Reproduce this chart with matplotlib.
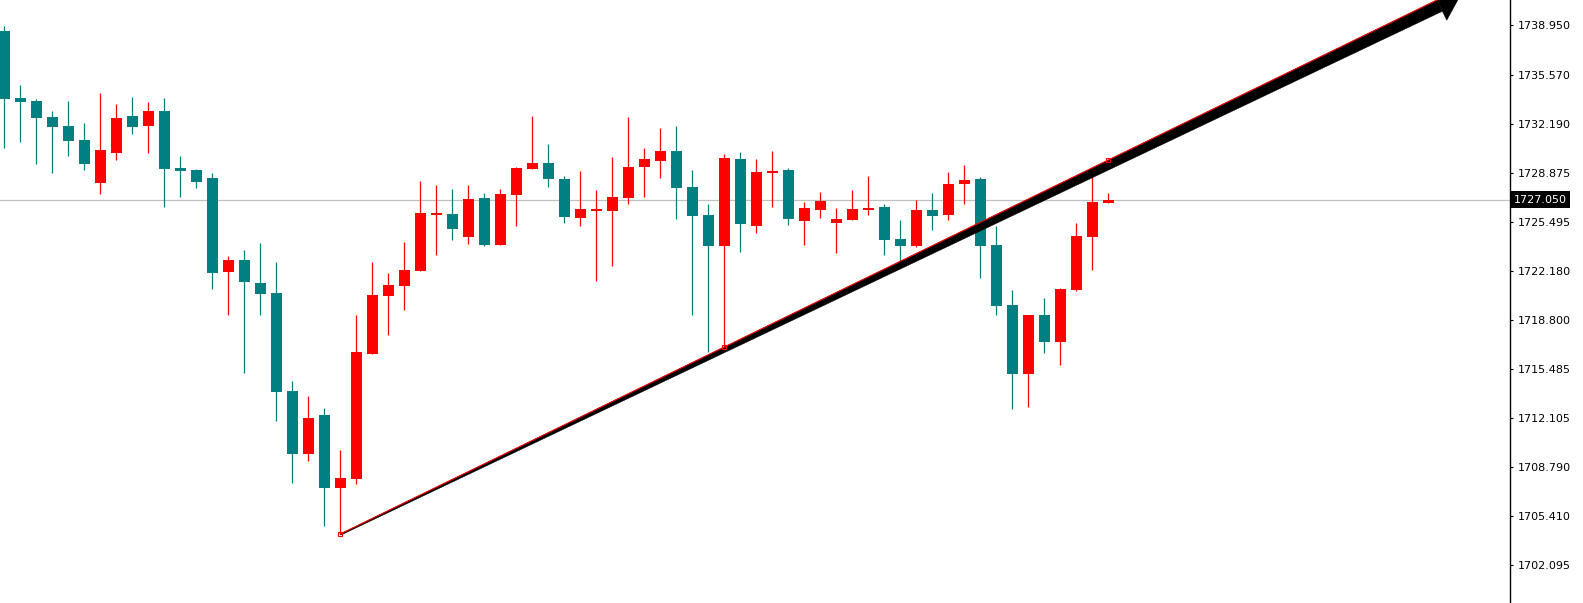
"""Gold M-chart snapshot: candles, bid line and a hand-drawn trend arrow (MT4 look)."""
import matplotlib

matplotlib.use("Agg")

import numpy as np
import matplotlib.pyplot as plt
from matplotlib.patches import Polygon
from matplotlib.transforms import IdentityTransform, blended_transform_factory

# --- data ---------------------------------------------------------------------
opens = [1738.57, 1733.99, 1733.78, 1732.69, 1732.07, 1731.12, 1728.18, 1730.23, 1732.76, 1732.07,
         1733.10, 1729.20, 1729.07, 1728.52, 1722.10, 1722.92, 1721.34, 1720.66, 1713.96, 1709.66,
         1712.32, 1707.33, 1707.95, 1716.49, 1720.45, 1721.14, 1722.16, 1725.99, 1726.06, 1724.49,
         1727.15, 1723.94, 1727.36, 1729.14, 1729.55, 1728.45, 1725.79, 1726.26, 1726.26, 1727.15,
         1729.27, 1729.68, 1730.37, 1727.91, 1725.99, 1723.87, 1729.82, 1725.24, 1728.86, 1729.07,
         1725.58, 1726.33, 1725.44, 1725.65, 1726.33, 1726.54, 1724.35, 1723.87, 1726.33, 1725.99,
         1728.11, 1728.45, 1723.94, 1719.84, 1715.12, 1719.16, 1717.31, 1720.86, 1724.49, 1726.81]
highs = [1738.91, 1734.88, 1733.92, 1733.12, 1733.78, 1732.28, 1734.33, 1733.58, 1734.06, 1733.71,
         1733.99, 1730.02, 1729.14, 1728.86, 1723.19, 1723.60, 1724.08, 1722.78, 1714.65, 1713.62,
         1712.80, 1709.93, 1719.16, 1722.78, 1722.03, 1724.15, 1728.31, 1728.04, 1727.77, 1728.04,
         1727.49, 1727.77, 1729.27, 1732.76, 1730.84, 1728.66, 1729.00, 1727.70, 1729.96, 1732.69,
         1730.57, 1731.94, 1732.07, 1729.07, 1726.74, 1730.16, 1730.30, 1729.82, 1730.37, 1729.20,
         1726.88, 1727.56, 1726.47, 1727.70, 1728.66, 1726.74, 1725.65, 1727.02, 1727.49, 1728.93,
         1729.41, 1728.59, 1725.24, 1720.86, 1719.16, 1720.32, 1721.00, 1725.44, 1728.59, 1727.49]
lows = [1730.59, 1730.98, 1729.48, 1728.86, 1730.02, 1729.07, 1727.43, 1729.75, 1731.53, 1730.23,
        1726.54, 1727.22, 1727.84, 1720.93, 1719.16, 1715.19, 1719.16, 1711.91, 1707.67, 1709.18,
        1704.73, 1704.19, 1707.61, 1716.49, 1717.79, 1719.50, 1722.16, 1723.26, 1724.28, 1724.01,
        1723.87, 1723.94, 1725.24, 1729.14, 1727.91, 1725.44, 1725.24, 1721.48, 1722.51, 1726.74,
        1727.22, 1728.52, 1725.72, 1719.16, 1716.63, 1716.97, 1723.46, 1724.76, 1726.54, 1725.31,
        1723.94, 1725.79, 1723.39, 1725.65, 1725.99, 1723.26, 1722.78, 1723.80, 1724.97, 1725.65,
        1726.74, 1721.69, 1719.16, 1712.73, 1712.87, 1716.56, 1715.74, 1720.80, 1722.23, 1726.81]
closes = [1733.92, 1733.71, 1732.62, 1732.01, 1731.05, 1729.48, 1730.43, 1732.62, 1732.01, 1733.10,
          1729.14, 1729.00, 1728.25, 1722.03, 1722.92, 1721.41, 1720.59, 1713.89, 1709.66, 1712.12,
          1707.33, 1708.02, 1716.63, 1720.52, 1721.21, 1722.23, 1726.13, 1726.13, 1725.03, 1727.08,
          1723.94, 1727.43, 1729.20, 1729.55, 1728.45, 1725.85, 1726.40, 1726.35, 1727.22, 1729.27,
          1729.82, 1730.37, 1727.84, 1725.92, 1723.87, 1729.89, 1725.38, 1728.93, 1729.00, 1725.72,
          1726.47, 1726.95, 1725.72, 1726.40, 1726.47, 1724.28, 1723.87, 1726.33, 1725.92, 1728.11,
          1728.38, 1723.87, 1719.77, 1715.12, 1719.16, 1717.31, 1720.93, 1724.56, 1726.88, 1727.05]

price_ticks = [1738.950, 1735.570, 1732.190, 1728.875, 1725.495, 1722.180,
               1718.800, 1715.485, 1712.105, 1708.790, 1705.410, 1702.095]
last_price = 1727.050

trend_x = [21, 45, 69]           # anchor bars of the trendline
trend_y = [1704.19, 1716.97, 1729.75]
arrow_end = 91                   # bar index where the arrow tip sits (off the top)

UP = "#ff0000"
DOWN = "#008080"
W, H = 1583, 603
PLOT_W = 1510
BAR_PX = 16
Y_LO, Y_HI = 1699.47, 1740.69

# --- figure -------------------------------------------------------------------
fig = plt.figure(figsize=(W / 100, H / 100), dpi=100)
ax = fig.add_axes([0, 0, PLOT_W / W, 1])
x0 = -4.3 / BAR_PX
ax.set_xlim(x0, x0 + PLOT_W / BAR_PX)
ax.set_ylim(Y_LO, Y_HI)

o, h, l, c = map(np.asarray, (opens, highs, lows, closes))
x = np.arange(len(o))
colors = np.where(c >= o, UP, DOWN)
px = (Y_HI - Y_LO) / H  # price per pixel

ax.axhline(last_price, color="#c0c0c0", lw=0.9, zorder=1)
ax.vlines(x, l, h, colors=colors, linewidth=0.9, zorder=2)
ax.bar(x, np.maximum(np.abs(c - o), 2 * px), bottom=np.minimum(o, c),
       width=11 / BAR_PX, color=colors, linewidth=0, zorder=3)

# trend arrow: tapered black wedge under a thin red trendline
slope = (trend_y[1] - trend_y[0]) / (trend_x[1] - trend_x[0])
end_y = trend_y[0] + slope * (arrow_end - trend_x[0])
p0 = ax.transData.transform((trend_x[0], trend_y[0]))
p1 = ax.transData.transform((arrow_end, end_y))
d = p1 - p0
u = d / np.hypot(*d)
n = np.array([u[1], -u[0]])      # normal pointing down-right on screen
head_len, w0, w1 = 26, 1.3, 12.5
base = p1 - u * head_len
shaft = [p0, base, base + n * w1, p0 + n * w0]
head = [base - n * 5, p1 + n * 4, base + n * (w1 + 10)]
for pts in (shaft, head):
    ax.add_patch(Polygon(pts, closed=True, facecolor="black", edgecolor="black",
                         linewidth=0.3, transform=IdentityTransform(), zorder=4))
ax.plot([p0[0], base[0]], [p0[1], base[1]], color=UP, lw=0.8,
        transform=IdentityTransform(), zorder=5)
ax.plot(trend_x, trend_y, "s", mfc="none", mec=UP, ms=3.2, mew=0.8, zorder=6)

# right price scale
ax.yaxis.tick_right()
ax.set_yticks(price_ticks)
ax.set_yticklabels([f"{v:.3f}" for v in price_ticks])
ax.tick_params(axis="y", length=2.5, width=0.8, pad=3, labelsize=8, colors="black")
ax.set_xticks([])
for side in ("top", "left", "bottom"):
    ax.spines[side].set_visible(False)
ax.spines["right"].set_linewidth(1.0)

tr = blended_transform_factory(ax.transAxes, ax.transData)
ax.text(1.0025, last_price, f"{last_price:.3f}", transform=tr, ha="left", va="center",
        color="white", fontsize=8, clip_on=False, zorder=7,
        bbox=dict(boxstyle="square,pad=0.3", fc="black", ec="none"))

fig.savefig("out.png", dpi=100)
